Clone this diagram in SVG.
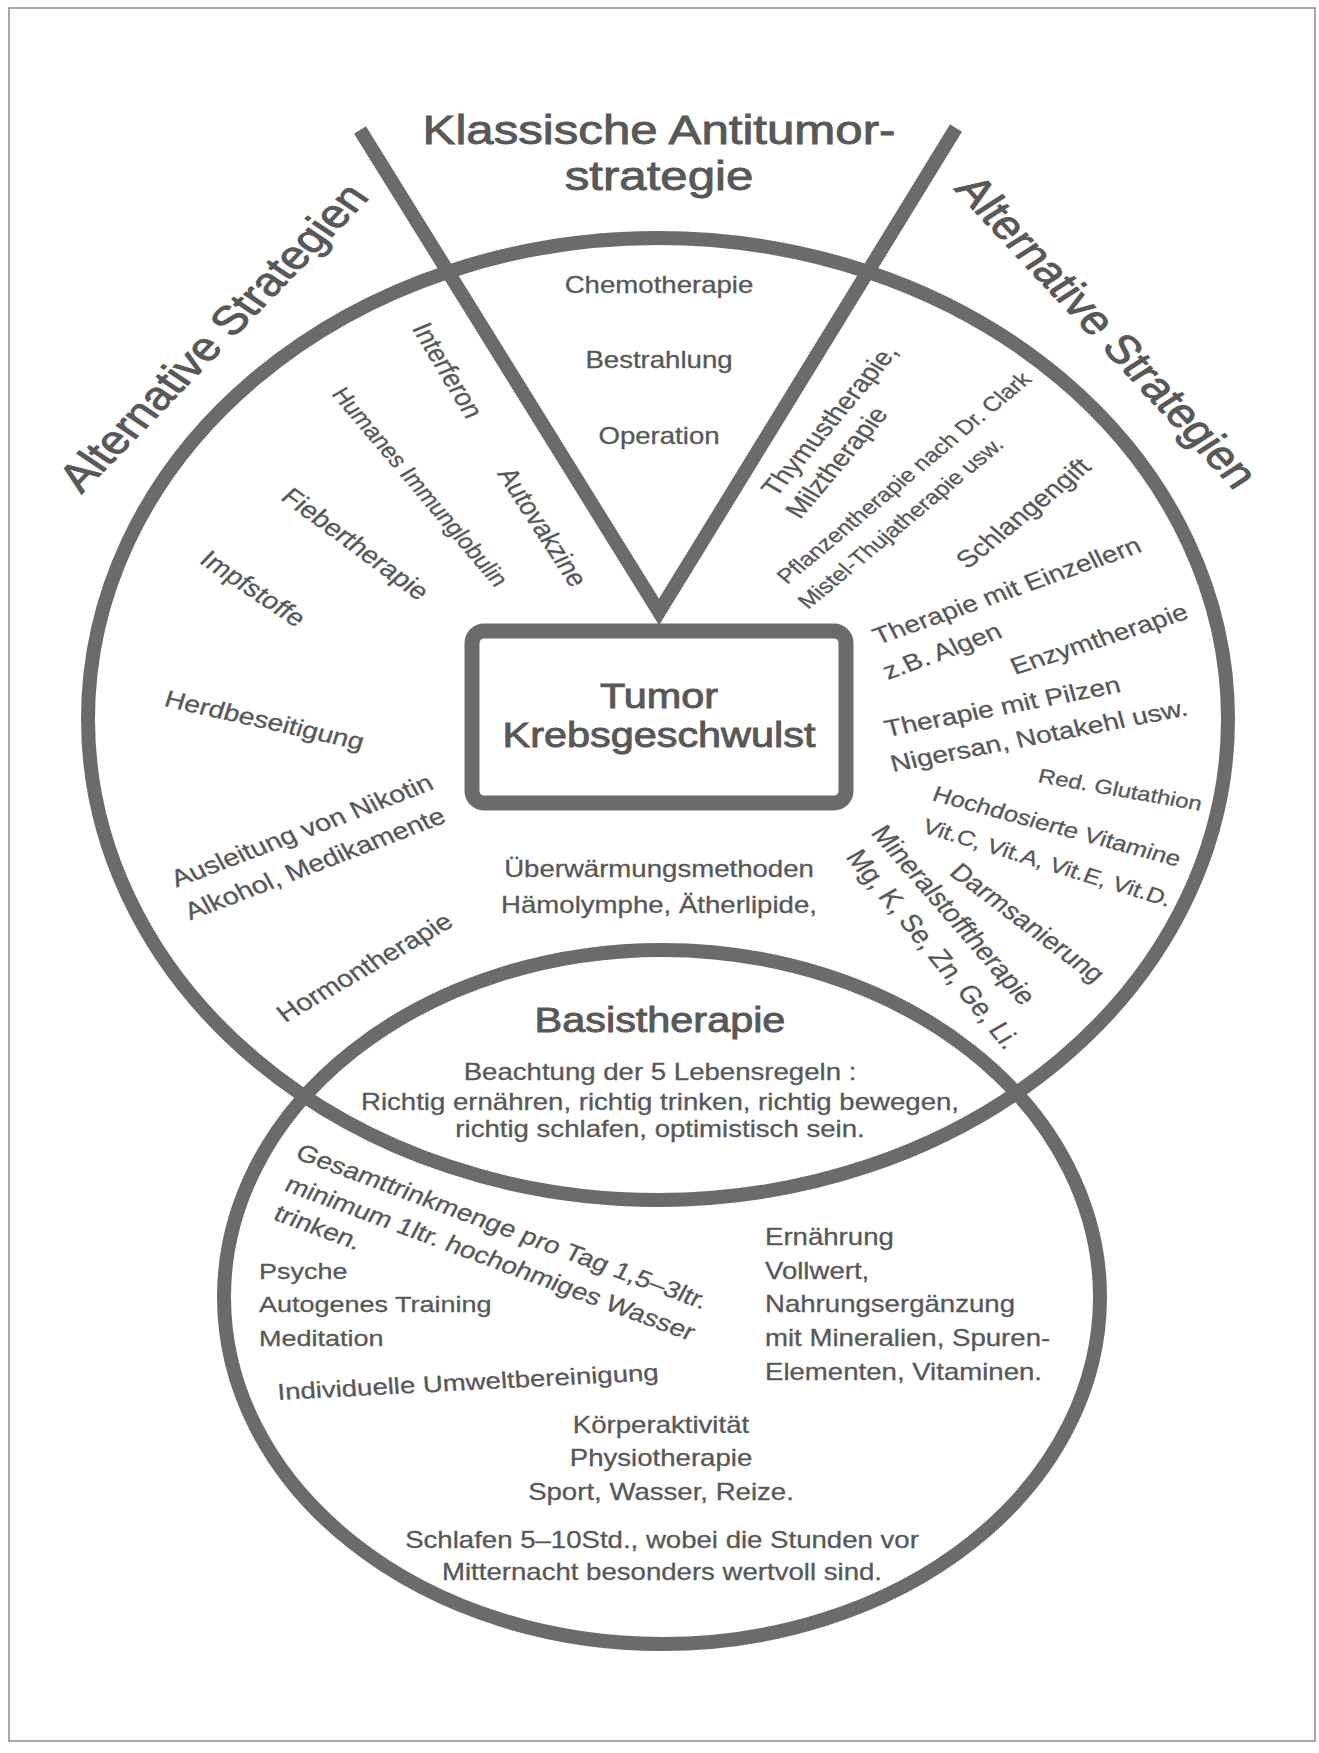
<svg xmlns="http://www.w3.org/2000/svg" width="1319" height="1753" viewBox="0 0 1319 1753">
<style>
.ln{fill:none;stroke:#6b6b6b;stroke-width:14}
.t{font-family:"Liberation Sans",Arial,Helvetica,sans-serif;fill:#585858;font-size:23px;stroke:#585858;stroke-width:0.3}
.h{stroke-width:0.9}
.m{text-anchor:middle}
</style>
<rect width="1319" height="1753" fill="#ffffff"/>
<rect id="frame" x="9" y="8" width="1306" height="1733" fill="none" stroke="#8c8c8c" stroke-width="1.5"/>

<g id="node-alternative">
<ellipse class="ln" cx="658" cy="719" rx="570" ry="481"/>
</g>
<g id="node-basis">
<ellipse class="ln" cx="662" cy="1297" rx="438" ry="347"/>
</g>
<g id="connectors">
<polyline class="ln" points="360,130 659,612 956,128" stroke-linejoin="miter"/>
</g>
<g id="node-tumor">
<rect x="472" y="631" width="374" height="172" rx="12" fill="#ffffff" stroke="#6b6b6b" stroke-width="15"/>
<text class="t h m" style="font-size:34.5px" transform="translate(659,708) scale(1.2,1)">Tumor</text>
<text class="t h m" style="font-size:34.5px" transform="translate(659,747) scale(1.2,1)">Krebsgeschwulst</text>
</g>

<g id="node-classic">
<text class="t h m" style="font-size:41px" transform="translate(659,144) scale(1.2,1)">Klassische Antitumor-</text>
<text class="t h m" style="font-size:41px" transform="translate(659,190) scale(1.2,1)">strategie</text>
<text class="t m" transform="translate(659,293) scale(1.2,1)">Chemotherapie</text>
<text class="t m" transform="translate(659,368) scale(1.2,1)">Bestrahlung</text>
<text class="t m" transform="translate(659,444) scale(1.2,1)">Operation</text>
</g>

<g id="node-alt-left">
<text class="t h m" style="font-size:40px" transform="translate(226,346) scale(1.2,1) rotate(-51)">Alternative Strategien</text>
<text class="t m" style="font-size:24px" transform="translate(439,374) scale(1.2,1) rotate(63.4)">Interferon</text>
<text class="t m" style="font-size:21.5px" transform="translate(413,491) scale(1.2,1) rotate(54.8)">Humanes Immunglobulin</text>
<text class="t m" style="font-size:24px" transform="translate(534,531) scale(1.2,1) rotate(61.6)">Autovakzine</text>
<text class="t m" style="font-size:24px" transform="translate(349,550) scale(1.2,1) rotate(41.5)">Fiebertherapie</text>
<text class="t m" style="font-size:24px" transform="translate(247,595) scale(1.2,1) rotate(38.9)">Impfstoffe</text>
<text class="t m" style="font-size:23.5px" transform="translate(262,728) scale(1.2,1) rotate(15)">Herdbeseitigung</text>
<text class="t m" style="font-size:24px" transform="translate(306,838) scale(1.2,1) rotate(-24.7)">Ausleitung von Nikotin</text>
<text class="t m" style="font-size:24px" transform="translate(319,871) scale(1.2,1) rotate(-24.7)">Alkohol, Medikamente</text>
<text class="t m" style="font-size:24px" transform="translate(370,974) scale(1.2,1) rotate(-34.7)">Hormontherapie</text>
<text class="t m" transform="translate(659,877) scale(1.2,1)">Überwärmungsmethoden</text>
<text class="t m" transform="translate(659,913) scale(1.2,1)">Hämolymphe, Ätherlipide,</text>
</g>

<g id="node-alt-right">
<text class="t h m" style="font-size:40px" transform="translate(1094,340) scale(1.2,1) rotate(52.2)">Alternative Strategien</text>
<text class="t" style="font-size:24px" transform="translate(776,498) scale(1.2,1) rotate(-55)">Thymustherapie,</text>
<text class="t" style="font-size:24px" transform="translate(800,520) scale(1.2,1) rotate(-55)">Milztherapie</text>
<text class="t" style="font-size:20.5px" transform="translate(787,585) scale(1.2,1) rotate(-45)">Pflanzentherapie nach Dr. Clark</text>
<text class="t" style="font-size:20.5px" transform="translate(808,610) scale(1.2,1) rotate(-45)">Mistel-Thujatherapie usw.</text>
<text class="t m" style="font-size:24px" transform="translate(1030,519) scale(1.2,1) rotate(-44.2)">Schlangengift</text>
<text class="t" style="font-size:23.5px" transform="translate(878,645) scale(1.2,1) rotate(-23)">Therapie mit Einzellern</text>
<text class="t" style="font-size:23.5px" transform="translate(888,680) scale(1.2,1) rotate(-24)">z.B. Algen</text>
<text class="t" style="font-size:23.5px" transform="translate(1015,675) scale(1.2,1) rotate(-21.3)">Enzymtherapie</text>
<text class="t" style="font-size:23.5px" transform="translate(887,737) scale(1.2,1) rotate(-13)">Therapie mit Pilzen</text>
<text class="t" style="font-size:23.5px" transform="translate(893,772) scale(1.2,1) rotate(-13)">Nigersan, Notakehl usw.</text>
<text class="t" style="font-size:20px" transform="translate(1037,782) scale(1.2,1) rotate(12)">Red. Glutathion</text>
<text class="t" style="font-size:21.5px" transform="translate(931,800) scale(1.2,1) rotate(18)">Hochdosierte Vitamine</text>
<text class="t" style="font-size:21px" transform="translate(921,832) scale(1.2,1) rotate(20)">Vit.C, Vit.A, Vit.E, Vit.D.</text>
<text class="t" style="font-size:24px" transform="translate(948,874) scale(1.2,1) rotate(42)">Darmsanierung</text>
<text class="t" style="font-size:24.5px" transform="translate(870,833) scale(1.2,1) rotate(54)">Mineralstofftherapie</text>
<text class="t" style="font-size:24.5px" transform="translate(845,857) scale(1.2,1) rotate(55.5)">Mg, K, Se, Zn, Ge, Li.</text>
</g>

<g id="node-basis-text">
<text class="t h m" style="font-size:34.5px" transform="translate(660,1032) scale(1.2,1)">Basistherapie</text>
<text class="t m" transform="translate(660,1080) scale(1.2,1)">Beachtung der 5 Lebensregeln :</text>
<text class="t m" transform="translate(660,1110) scale(1.2,1)">Richtig ernähren, richtig trinken, richtig bewegen,</text>
<text class="t m" transform="translate(660,1137) scale(1.2,1)">richtig schlafen, optimistisch sein.</text>
<text class="t" style="font-size:23.5px" transform="translate(294,1158) scale(1.2,1) rotate(24)">Gesamttrinkmenge pro Tag 1,5–3ltr.</text>
<text class="t" style="font-size:23.5px" transform="translate(283,1190) scale(1.2,1) rotate(24)">minimum 1ltr. hochohmiges Wasser</text>
<text class="t" style="font-size:23.5px" transform="translate(272,1219) scale(1.2,1) rotate(24)">trinken.</text>
<text class="t" style="font-size:22.5px" transform="translate(259,1279) scale(1.2,1)">Psyche</text>
<text class="t" style="font-size:22.5px" transform="translate(259,1312) scale(1.2,1)">Autogenes Training</text>
<text class="t" style="font-size:22.5px" transform="translate(259,1346) scale(1.2,1)">Meditation</text>
<text class="t" transform="translate(278,1400) scale(1.2,1) rotate(-3.6)">Individuelle Umweltbereinigung</text>
<text class="t" transform="translate(765,1245) scale(1.2,1)">Ernährung</text>
<text class="t" transform="translate(765,1279) scale(1.2,1)">Vollwert,</text>
<text class="t" transform="translate(765,1312) scale(1.2,1)">Nahrungsergänzung</text>
<text class="t" transform="translate(765,1346) scale(1.2,1)">mit Mineralien, Spuren-</text>
<text class="t" transform="translate(765,1380) scale(1.2,1)">Elementen, Vitaminen.</text>
<text class="t m" transform="translate(661,1433) scale(1.2,1)">Körperaktivität</text>
<text class="t m" transform="translate(661,1466) scale(1.2,1)">Physiotherapie</text>
<text class="t m" transform="translate(661,1500) scale(1.2,1)">Sport, Wasser, Reize.</text>
<text class="t m" transform="translate(662,1548) scale(1.2,1)">Schlafen 5–10Std., wobei die Stunden vor</text>
<text class="t m" transform="translate(662,1580) scale(1.2,1)">Mitternacht besonders wertvoll sind.</text>
</g>
</svg>
